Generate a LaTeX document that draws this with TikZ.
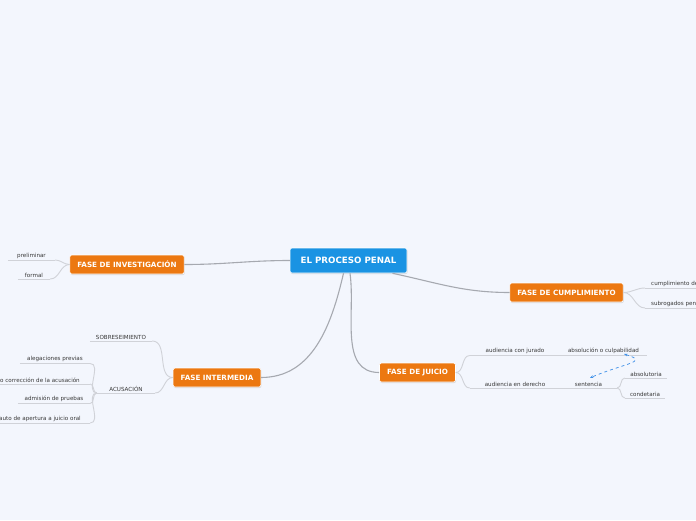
\documentclass[tikz,border=0pt]{standalone}
\usepackage{fontspec}
\setmainfont{DejaVu Sans}
\usetikzlibrary{arrows.meta, positioning, calc, shadows}
\definecolor{bgpaper}{HTML}{F3F6FD}
\definecolor{rootblue}{HTML}{1A93E3}
\definecolor{phaseorange}{HTML}{EC7811}
\definecolor{branchgray}{HTML}{A6A9B0}
\definecolor{leafgray}{HTML}{D0D2D8}
\definecolor{linkblue}{HTML}{3D8FE8}
\tikzset{
    rootbox/.style={rectangle, fill=rootblue, draw=white, line width=0.6pt, rounded corners=2pt, text=white, font=\fontsize{8.7}{9}\selectfont\bfseries, minimum height=25pt, inner xsep=10.5pt, drop shadow={shadow xshift=0.6pt, shadow yshift=-1pt, opacity=0.25}},
    phasebox/.style={rootbox, fill=phaseorange, font=\fontsize{7.2}{8}\selectfont\bfseries, minimum height=19pt, inner xsep=7.5pt},
    leaf/.style={inner sep=1.2pt, font=\fontsize{5.6}{6.5}\selectfont, text=black!78, anchor=south},
    leafline/.style={draw=leafgray, line width=0.9pt},
    branch/.style={draw=branchgray, line width=1.1pt},
    twig/.style={draw=leafgray, line width=0.9pt},
    linkarrow/.style={{Stealth[length=3.5pt]}-{Stealth[length=3.5pt]}, dashed, draw=linkblue, line width=0.7pt}
}

\begin{document}
\begin{tikzpicture}[x=1pt, y=-1pt]
        \fill[bgpaper] (0,0) rectangle (696,520);
        \useasboundingbox (0,0) rectangle (696,520);
        \clip (0,0) rectangle (696,520);
        % centre and phases
        \node[rootbox] (root) at (348.5,260.5) {EL PROCESO PENAL};
        \node[phasebox] (invest) at (127,264.5) {FASE DE INVESTIGACIÓN};
        \node[phasebox] (inter) at (217,377.5) {FASE INTERMEDIA};
        \node[phasebox] (juicio) at (417.5,372.5) {FASE DE JUICIO};
        \node[phasebox] (cumpl) at (566.5,292.5) {FASE DE CUMPLIMIENTO};
        % leaves
        \node[leaf, minimum width=47pt] (prelim) at (31.5,260) {preliminar};
        \node[leaf, minimum width=32pt] (formal) at (34,279) {formal};
        \node[leaf, minimum width=62pt] (sobre) at (121,341) {SOBRESEIMIENTO};
        \node[leaf, minimum width=58pt] (acus) at (126,393) {ACUSACIÓN};
        \node[leaf, minimum width=70pt] (aleg) at (55,363.5) {alegaciones previas};
        \node[leaf, minimum width=100pt] (correc) at (40,384) {o corrección de la acusación};
        \node[leaf, minimum width=72pt] (admis) at (54,403.5) {admisión de pruebas};
        \node[leaf, minimum width=100pt] (auto) at (40,423) {auto de apertura a juicio oral};
        \node[leaf, minimum width=90pt] (jurado) at (515,355.5) {audiencia con jurado};
        \node[leaf, minimum width=87pt] (absol) at (603.5,355.5) {absolución o culpabilidad};
        \node[leaf, minimum width=90pt] (derecho) at (515,388) {audiencia en derecho};
        \node[leaf, minimum width=57pt] (sent) at (588.5,388) {sentencia};
        \node[leaf, minimum width=42pt] (absolut) at (646,378) {absolutoria};
        \node[leaf, minimum width=40pt] (conde) at (645,398) {condetaria};
        \node[leaf, anchor=south west, inner xsep=6pt] (cumpli) at (645,288) {cumplimiento de la pena};
        \node[leaf, anchor=south west, inner xsep=6pt] (subro) at (645,308) {subrogados penales};
        \foreach \n in {prelim,formal,sobre,acus,aleg,correc,admis,auto,jurado,absol,derecho,sent,absolut,conde}
            \draw[leafline] (\n.south west) -- (\n.south east);
        \draw[leafline] (cumpli.south west) -- ++(80,0);
        \draw[leafline] (subro.south west) -- ++(80,0);
        % branches from the centre
        \draw[branch] (root.west) to[out=180, in=0] (invest.east);
        \draw[branch] ([xshift=-5pt]root.south) to[out=-103, in=0] (inter.east);
        \draw[branch] ([xshift=1.5pt]root.south) to[out=-82, in=180] (juicio.west);
        \draw[branch] ([xshift=44pt]root.south) to[out=-12, in=180] (cumpl.west);
        % twigs
        \draw[twig] (invest.west) to[out=180, in=0] (prelim.south east);
        \draw[twig] (invest.west) to[out=180, in=0] (formal.south east);
        \draw[twig] (inter.west) to[out=180, in=0] (sobre.south east);
        \draw[twig] (inter.west) to[out=180, in=0] (acus.south east);
        \foreach \n in {aleg,correc,admis,auto}
            \draw[twig] (acus.south west) to[out=180, in=0] (\n.south east);
        \draw[twig] (juicio.east) to[out=0, in=180] (jurado.south west);
        \draw[twig] (juicio.east) to[out=0, in=180] (derecho.south west);
        \draw[twig] (sent.south east) to[out=0, in=180] (absolut.south west);
        \draw[twig] (sent.south east) to[out=0, in=180] (conde.south west);
        \draw[twig] (cumpl.east) to[out=0, in=180] (cumpli.south west);
        \draw[twig] (cumpl.east) to[out=0, in=180] (subro.south west);
        % link between results
        \draw[linkarrow] ($(absol.south)+(20.5,-1.5)$) .. controls +(26,8) and +(35,-15) .. ($(sent.north)+(1.5,-3)$);
    \end{tikzpicture}
\end{document}
